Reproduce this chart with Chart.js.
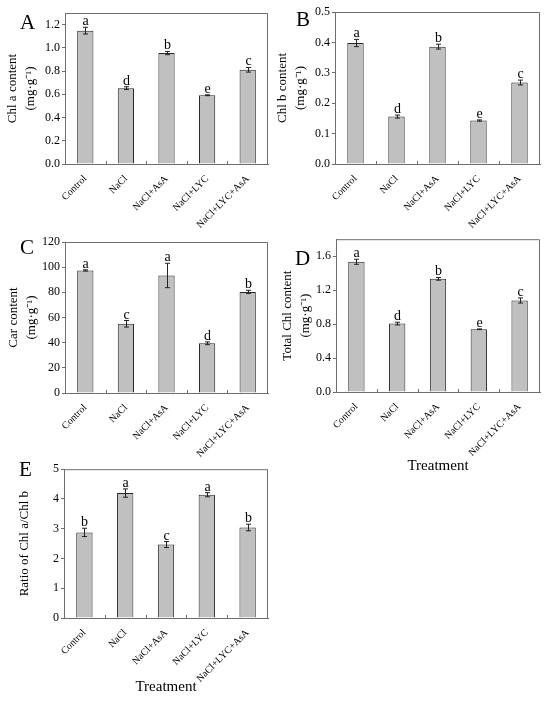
<!DOCTYPE html>
<html>
<head>
<meta charset="utf-8">
<script src="https://cdn.jsdelivr.net/npm/chart.js@4.4.1/dist/chart.umd.min.js"></script>
<style>
  body { margin: 0; background: #fff; }
  #wrap { position: relative; width: 550px; height: 702px; overflow: hidden; }
  canvas { position: absolute; }
  .tag { position: absolute; font-family: "Liberation Serif", serif; font-size: 21px; line-height: 21px; color: #000; }
</style>
</head>
<body>
<div id="wrap">
  <canvas id="panelA" width="275" height="230" style="left:0;top:0"></canvas>
  <canvas id="panelB" width="275" height="230" style="left:275px;top:0"></canvas>
  <canvas id="panelC" width="275" height="230" style="left:0;top:230px"></canvas>
  <canvas id="panelD" width="275" height="245" style="left:275px;top:230px"></canvas>
  <canvas id="panelE" width="275" height="242" style="left:0;top:460px"></canvas>
  <div class="tag" style="left:20px;top:12px">A</div>
  <div class="tag" style="left:296px;top:9px">B</div>
  <div class="tag" style="left:20px;top:237px">C</div>
  <div class="tag" style="left:295px;top:248px">D</div>
  <div class="tag" style="left:19px;top:459px">E</div>
</div>
<script>
const treatments = ["Control", "NaCl", "NaCl+AsA", "NaCl+LYC", "NaCl+LYC+AsA"];

// A - Chl a
const chlA = [1.148, 0.653, 0.955, 0.592, 0.811];
const chlAErr = [0.029, 0.012, 0.014, 0.004, 0.02];
const chlALetters = ["a", "d", "b", "e", "c"];

// B - Chl b
const chlB = [0.398, 0.156, 0.386, 0.143, 0.268];
const chlBErr = [0.012, 0.005, 0.008, 0.002, 0.008];
const chlBLetters = ["a", "d", "b", "e", "c"];

// C - carotenoids
const car = [97.4, 55.0, 93.4, 39.5, 80.3];
const carErr = [0.5, 2.6, 9.7, 1.1, 1.3];
const carLetters = ["a", "c", "a", "d", "b"];

// D - total chlorophyll
const totalChl = [1.534, 0.806, 1.333, 0.739, 1.078];
const totalChlErr = [0.03, 0.016, 0.016, 0.004, 0.03];
const totalChlLetters = ["a", "d", "b", "e", "c"];

// E - ratio
const ratioAB = [2.876, 4.198, 2.468, 4.143, 3.04];
const ratioABErr = [0.14, 0.14, 0.1, 0.07, 0.11];
const ratioABLetters = ["b", "a", "c", "a", "b"];

const serif = "'Liberation Serif', 'Times New Roman', serif";
const frameColor = "#6e6e6e";

// top/right frame, inward x ticks, error bars, letters
const decorPlugin = {
  id: "decor",
  afterDatasetsDraw(chart, args, opts) {
    const { ctx, chartArea: a, scales: { x, y } } = chart;
    const vals = chart.data.datasets[0].data;
    ctx.save();
    ctx.strokeStyle = frameColor;
    ctx.lineWidth = 1;
    ctx.beginPath();
    ctx.moveTo(a.left, a.top + 0.5);
    ctx.lineTo(a.right - 0.5, a.top + 0.5);
    ctx.lineTo(a.right - 0.5, a.bottom);
    ctx.stroke();
    for (let i = 1; i < vals.length; i++) {
      const px = Math.round((x.getPixelForValue(i - 1) + x.getPixelForValue(i)) / 2) + 0.5;
      ctx.beginPath();
      ctx.moveTo(px, a.bottom);
      ctx.lineTo(px, a.bottom - 3);
      ctx.stroke();
    }
    ctx.strokeStyle = "#222";
    ctx.fillStyle = "#000";
    ctx.font = "14px " + serif;
    ctx.textAlign = "center";
    ctx.textBaseline = "alphabetic";
    vals.forEach((v, i) => {
      const px = Math.round(x.getPixelForValue(i)) + 0.5;
      const hi = y.getPixelForValue(v + opts.err[i]);
      const lo = y.getPixelForValue(v - opts.err[i]);
      ctx.beginPath();
      ctx.moveTo(px, hi); ctx.lineTo(px, lo);
      ctx.moveTo(px - 2.5, hi); ctx.lineTo(px + 2.5, hi);
      ctx.moveTo(px - 2.5, lo); ctx.lineTo(px + 2.5, lo);
      ctx.stroke();
      ctx.fillText(opts.letters[i], px, hi - 2);
    });
    ctx.restore();
  }
};

function makePanel(id, box, spec) {
  const ctx = document.getElementById(id).getContext("2d");
  new Chart(ctx, {
    type: "bar",
    data: {
      labels: treatments,
      datasets: [{
        data: spec.values,
        backgroundColor: "#c0c0c0",
        borderColor: "#262626",
        borderWidth: 1,
        borderSkipped: "bottom",
        barPercentage: 0.4,
        categoryPercentage: 1
      }]
    },
    options: {
      responsive: false,
      animation: false,
      layout: { autoPadding: false, padding: { left: 0, top: box.t, right: box.w - box.r, bottom: 0 } },
      plugins: {
        legend: { display: false },
        tooltip: { enabled: false },
        decor: { err: spec.err, letters: spec.letters }
      },
      scales: {
        x: {
          grid: { display: false },
          border: { display: true, color: frameColor, width: 1 },
          ticks: { color: "#000", font: { family: serif, size: 10 }, minRotation: 45, maxRotation: 45, padding: 1 },
          title: {
            display: !!spec.xTitle,
            text: spec.xTitle || "",
            color: "#000",
            font: { family: serif, size: 15, lineHeight: 1.2 },
            padding: { top: 0, bottom: spec.xTitlePad || 0 }
          },
          afterFit(scale) { scale.height = box.h - box.b; }
        },
        y: {
          min: 0,
          max: spec.max,
          grid: { drawOnChartArea: false, drawTicks: true, tickLength: 3, color: frameColor },
          border: { display: true, color: frameColor, width: 1 },
          ticks: {
            stepSize: spec.step,
            includeBounds: false,
            color: "#000",
            font: { family: serif, size: 12 },
            padding: 2,
            callback: (v) => v.toFixed(spec.digits)
          },
          title: {
            display: true,
            text: spec.yTitle,
            color: "#000",
            font: { family: serif, size: 13, lineHeight: 1.4 },
            padding: { top: spec.yTitlePad, bottom: 0 }
          },
          afterFit(scale) { scale.width = box.l; }
        }
      }
    },
    plugins: [decorPlugin]
  });
}

document.addEventListener("DOMContentLoaded", () => {
  if (typeof Chart === "undefined") {
    console.error("Chart.js is not loaded!");
    return;
  }

  makePanel("panelA", { w: 275, h: 230, l: 65, t: 13, r: 268, b: 164 }, {
    values: chlA, err: chlAErr, letters: chlALetters,
    max: 1.3, step: 0.2, digits: 1,
    yTitle: ["Chl a content", "(mg·g⁻¹)"], yTitlePad: 3
  });

  makePanel("panelB", { w: 275, h: 230, l: 60, t: 12, r: 265, b: 164 }, {
    values: chlB, err: chlBErr, letters: chlBLetters,
    max: 0.5, step: 0.1, digits: 1,
    yTitle: ["Chl b content", "(mg·g⁻¹)"], yTitlePad: -1.5
  });

  makePanel("panelC", { w: 275, h: 230, l: 65, t: 12, r: 268, b: 163 }, {
    values: car, err: carErr, letters: carLetters,
    max: 120, step: 20, digits: 0,
    yTitle: ["Car content", "(mg·g⁻¹)"], yTitlePad: 4
  });

  makePanel("panelD", { w: 275, h: 245, l: 61, t: 9, r: 265, b: 162 }, {
    values: totalChl, err: totalChlErr, letters: totalChlLetters,
    max: 1.8, step: 0.4, digits: 1,
    yTitle: ["Total Chl content", "(mg·g⁻¹)"], yTitlePad: 3,
    xTitle: "Treatment", xTitlePad: 0
  });

  makePanel("panelE", { w: 275, h: 242, l: 64, t: 6, r: 268, b: 158 }, {
    values: ratioAB, err: ratioABErr, letters: ratioABLetters,
    max: 5, step: 1, digits: 0,
    yTitle: "Ratio of Chl a/Chl b", yTitlePad: 15,
    xTitle: "Treatment", xTitlePad: 6
  });
});
</script>
</body>
</html>
